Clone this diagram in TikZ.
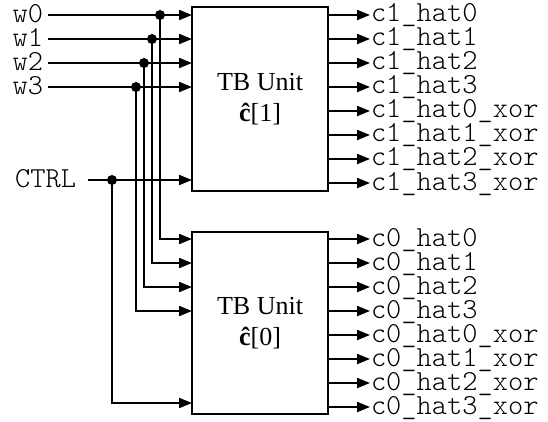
\documentclass[tikz,border=0pt]{standalone}
\usepackage{fontspec}
\setmainfont{Liberation Serif}
\setmonofont{Latin Modern Mono Light}
\usetikzlibrary{arrows.meta}
\begin{document}
\begin{tikzpicture}[x=1pt,y=-1pt,line width=2pt,
  arr/.style={-{Triangle[length=13pt,width=10pt]}},
  unit/.style={draw,rectangle,minimum width=136pt,inner sep=0pt,align=center,
    font=\fontsize{26}{31}\selectfont},
  lbl/.style={inner sep=0pt,font=\fontsize{29}{29}\selectfont\ttfamily},
  dot/.style={circle,fill,inner sep=0pt,minimum size=10pt}]
\useasboundingbox (0,0) rectangle (548,422);
% units
\node[unit,minimum height=184pt] (u1) at (260,99) {TB Unit\\\textbf{ĉ}[1]};
\node[unit,minimum height=182pt] (u0) at (260,323) {TB Unit\\\textbf{ĉ}[0]};
% inputs
\foreach \i/\y/\x in {0/15/160,1/39/152,2/63/144,3/87/136}{
  \node[lbl,anchor=base east] (w\i) at (44,\y+7.5) {w\i};
  \coordinate (s\i) at (48,\y);
  \coordinate (t\i) at (192,\y);
  \coordinate (j\i) at (\x,\y);
  \coordinate (b\i) at (192,239+24*\i);
  \draw[arr] (s\i) -- (t\i);
  \draw[arr] (j\i) |- (b\i);
  \node[dot] (d\i) at (j\i) {};
}
% control
\node[lbl,anchor=base east] (ctrl) at (77,187.5) {CTRL};
\coordinate (cs) at (88,180);
\coordinate (cj) at (112,180);
\coordinate (ct) at (192,180);
\coordinate (cb) at (192,403);
\draw[arr] (cs) -- (ct);
\draw[arr] (cj) |- (cb);
\node[dot] (cd) at (cj) {};
% outputs
\foreach \k/\m in {0/0,1/1,2/2,3/3,4/0,5/1,6/2,7/3}{
  \coordinate (p1\k) at (328,15+24*\k);
  \coordinate (p0\k) at (328,239+24*\k);
  \ifnum\k<4
    \node[lbl,anchor=base west] (o1\k) at (370,22+24*\k) {c1\_hat\m};
    \node[lbl,anchor=base west] (o0\k) at (370,246+24*\k) {c0\_hat\m};
  \else
    \node[lbl,anchor=base west] (o1\k) at (370,22+24*\k) {c1\_hat\m\_xor};
    \node[lbl,anchor=base west] (o0\k) at (370,246+24*\k) {c0\_hat\m\_xor};
  \fi
  \draw[arr] (p1\k) -- (p1\k -| o1\k.west);
  \draw[arr] (p0\k) -- (p0\k -| o0\k.west);
}
\end{tikzpicture}
\end{document}
